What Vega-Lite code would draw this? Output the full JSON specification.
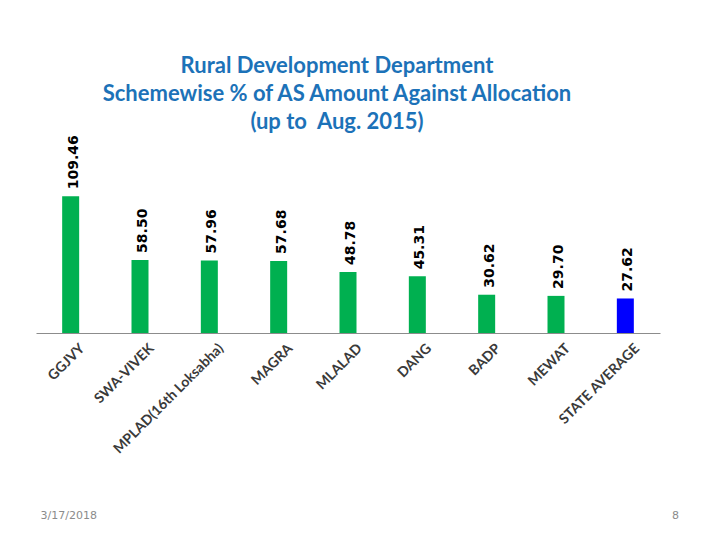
{
  "$schema": "https://vega.github.io/schema/vega-lite/v6.json",
  "width": 624,
  "height": 150,
  "autosize": "none",
  "padding": {"left": 36, "top": 183, "right": 60, "bottom": 207},
  "background": "white",
  "title": {
    "text": ["Rural Development Department", "Schemewise % of AS Amount Against Allocation", "(up to\u00a0 Aug. 2015)"],
    "font": "Lato",
    "fontSize": 22,
    "fontWeight": "bold",
    "color": "#1C72B8",
    "lineHeight": 28,
    "anchor": "middle",
    "dx": -11,
    "offset": 1
  },
  "data": {
    "values": [
      {"scheme": "GGJVY", "value": 109.46, "kind": "scheme"},
      {"scheme": "SWA-VIVEK", "value": 58.50, "kind": "scheme"},
      {"scheme": "MPLAD(16th Loksabha)", "value": 57.96, "kind": "scheme"},
      {"scheme": "MAGRA", "value": 57.68, "kind": "scheme"},
      {"scheme": "MLALAD", "value": 48.78, "kind": "scheme"},
      {"scheme": "DANG", "value": 45.31, "kind": "scheme"},
      {"scheme": "BADP", "value": 30.62, "kind": "scheme"},
      {"scheme": "MEWAT", "value": 29.70, "kind": "scheme"},
      {"scheme": "STATE AVERAGE", "value": 27.62, "kind": "average"}
    ]
  },
  "encoding": {
    "x": {
      "field": "scheme",
      "type": "nominal",
      "sort": null,
      "axis": {
        "title": "3/17/2018",
        "titleX": 4,
        "titleY": 182,
        "titleAlign": "left",
        "titleBaseline": "middle",
        "titleFont": "DejaVu Sans",
        "titleFontSize": 11,
        "titleFontWeight": "normal",
        "titleColor": "#8B8B8B",
        "labelAngle": -45,
        "labelAlign": "right",
        "labelBaseline": "middle",
        "labelFont": "Lato",
        "labelFontSize": 14,
        "labelFontWeight": "bold",
        "labelColor": "#3A3A3A",
        "labelPadding": 13,
        "labelOffset": 12,
        "labelLimit": 0,
        "ticks": false,
        "domainColor": "#8C8C8C",
        "domainWidth": 1
      }
    },
    "y": {
      "field": "value",
      "type": "quantitative",
      "scale": {"domain": [0, 120]},
      "axis": {
        "title": "8",
        "titleAngle": 0,
        "titleX": 639,
        "titleY": 332,
        "titleAlign": "center",
        "titleBaseline": "middle",
        "titleFont": "DejaVu Sans",
        "titleFontSize": 11,
        "titleFontWeight": "normal",
        "titleColor": "#8B8B8B",
        "labels": false,
        "ticks": false,
        "domain": false,
        "grid": false
      }
    }
  },
  "layer": [
    {
      "mark": {"type": "bar", "width": 17},
      "encoding": {
        "color": {
          "field": "kind",
          "type": "nominal",
          "scale": {"domain": ["scheme", "average"], "range": ["#00B050", "#0000FF"]},
          "legend": null
        }
      }
    },
    {
      "mark": {
        "type": "text",
        "angle": -90,
        "align": "left",
        "baseline": "middle",
        "dx": 7,
        "dy": 3,
        "font": "DejaVu Sans",
        "fontSize": 14,
        "fontWeight": "bold",
        "color": "#000000"
      },
      "encoding": {
        "text": {"field": "value", "type": "quantitative", "format": ".2f"}
      }
    }
  ],
  "config": {"view": {"stroke": null}}
}
